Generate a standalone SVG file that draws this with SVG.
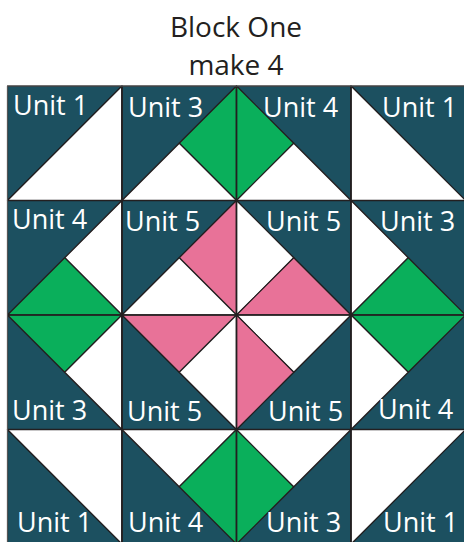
<svg xmlns="http://www.w3.org/2000/svg" width="464" height="542" viewBox="0 0 464 542">
<style>
.d{fill:#1c5060}
.w{fill:#ffffff}
.g{fill:#0aaf5b}
.p{fill:#e87298}
polygon{stroke:#231f20;stroke-width:1.2;stroke-linejoin:round}
.lbl{font-family:"Open Sans","Liberation Sans",sans-serif;font-size:27px;fill:#ffffff}
.ttl{font-family:"Open Sans","Liberation Sans",sans-serif;font-size:28px;fill:#231f20;text-anchor:middle}
.grid{stroke:#231f20;stroke-width:1.6;fill:none}
</style>
<rect width="464" height="542" fill="#ffffff"/>
<g id="title">
<text class="ttl" x="236" y="37">Block One</text>
<text class="ttl" x="236" y="75">make 4</text>
</g>
<g id="cell-r0c0">
<polygon class="d" points="7.5,86 122,86 7.5,200.5"/>
<polygon class="w" points="122,86 122,200.5 7.5,200.5"/>
<text class="lbl" x="13" y="115">Unit 1</text>
</g>
<g id="cell-r0c1">
<polygon class="d" points="122,86 236.5,86 122,200.5"/>
<polygon class="g" points="236.5,86 179.25,143.25 236.5,200.5"/>
<polygon class="w" points="122,200.5 179.25,143.25 236.5,200.5"/>
<text class="lbl" x="128" y="117">Unit 3</text>
</g>
<g id="cell-r0c2">
<polygon class="d" points="236.5,86 351,86 351,200.5"/>
<polygon class="g" points="236.5,86 293.75,143.25 236.5,200.5"/>
<polygon class="w" points="236.5,200.5 293.75,143.25 351,200.5"/>
<text class="lbl" x="263" y="117">Unit 4</text>
</g>
<g id="cell-r0c3">
<polygon class="d" points="351,86 465.5,86 465.5,200.5"/>
<polygon class="w" points="351,86 351,200.5 465.5,200.5"/>
<text class="lbl" x="382" y="117">Unit 1</text>
</g>
<g id="cell-r1c0">
<polygon class="d" points="7.5,200.5 122,200.5 7.5,315"/>
<polygon class="w" points="122,200.5 64.75,257.75 122,315"/>
<polygon class="g" points="7.5,315 64.75,257.75 122,315"/>
<text class="lbl" x="12" y="229">Unit 4</text>
</g>
<g id="cell-r1c1">
<polygon class="d" points="122,200.5 236.5,200.5 122,315"/>
<polygon class="p" points="236.5,200.5 179.25,257.75 236.5,315"/>
<polygon class="w" points="122,315 179.25,257.75 236.5,315"/>
<text class="lbl" x="125" y="231">Unit 5</text>
</g>
<g id="cell-r1c2">
<polygon class="d" points="236.5,200.5 351,200.5 351,315"/>
<polygon class="w" points="236.5,200.5 293.75,257.75 236.5,315"/>
<polygon class="p" points="236.5,315 293.75,257.75 351,315"/>
<text class="lbl" x="266" y="231">Unit 5</text>
</g>
<g id="cell-r1c3">
<polygon class="d" points="351,200.5 465.5,200.5 465.5,315"/>
<polygon class="w" points="351,200.5 408.25,257.75 351,315"/>
<polygon class="g" points="351,315 408.25,257.75 465.5,315"/>
<text class="lbl" x="380" y="231">Unit 3</text>
</g>
<g id="cell-r2c0">
<polygon class="d" points="7.5,315 7.5,429.5 122,429.5"/>
<polygon class="g" points="7.5,315 64.75,372.25 122,315"/>
<polygon class="w" points="122,315 64.75,372.25 122,429.5"/>
<text class="lbl" x="12" y="420">Unit 3</text>
</g>
<g id="cell-r2c1">
<polygon class="d" points="122,315 122,429.5 236.5,429.5"/>
<polygon class="p" points="122,315 179.25,372.25 236.5,315"/>
<polygon class="w" points="236.5,315 179.25,372.25 236.5,429.5"/>
<text class="lbl" x="127" y="421">Unit 5</text>
</g>
<g id="cell-r2c2">
<polygon class="d" points="351,315 351,429.5 236.5,429.5"/>
<polygon class="w" points="236.5,315 293.75,372.25 351,315"/>
<polygon class="p" points="236.5,315 293.75,372.25 236.5,429.5"/>
<text class="lbl" x="268" y="421">Unit 5</text>
</g>
<g id="cell-r2c3">
<polygon class="d" points="465.5,315 465.5,429.5 351,429.5"/>
<polygon class="g" points="351,315 408.25,372.25 465.5,315"/>
<polygon class="w" points="351,315 408.25,372.25 351,429.5"/>
<text class="lbl" x="378" y="419">Unit 4</text>
</g>
<g id="cell-r3c0">
<polygon class="d" points="7.5,429.5 7.5,544 122,544"/>
<polygon class="w" points="7.5,429.5 122,429.5 122,544"/>
<text class="lbl" x="17" y="532">Unit 1</text>
</g>
<g id="cell-r3c1">
<polygon class="d" points="122,429.5 122,544 236.5,544"/>
<polygon class="w" points="122,429.5 179.25,486.75 236.5,429.5"/>
<polygon class="g" points="236.5,429.5 179.25,486.75 236.5,544"/>
<text class="lbl" x="128" y="532">Unit 4</text>
</g>
<g id="cell-r3c2">
<polygon class="d" points="351,429.5 351,544 236.5,544"/>
<polygon class="g" points="236.5,429.5 293.75,486.75 236.5,544"/>
<polygon class="w" points="236.5,429.5 293.75,486.75 351,429.5"/>
<text class="lbl" x="266" y="532">Unit 3</text>
</g>
<g id="cell-r3c3">
<polygon class="d" points="465.5,429.5 465.5,544 351,544"/>
<polygon class="w" points="351,429.5 465.5,429.5 351,544"/>
<text class="lbl" x="383" y="532">Unit 1</text>
</g>
<g id="connectors">
<path class="grid" d="M122,86V544M236.5,86V544M351,86V544M7.5,200.5H465.5M7.5,315H465.5M7.5,429.5H465.5"/>
<rect x="7.5" y="86" width="458" height="458" fill="none" stroke="#555555" stroke-width="1"/>
</g>
</svg>
